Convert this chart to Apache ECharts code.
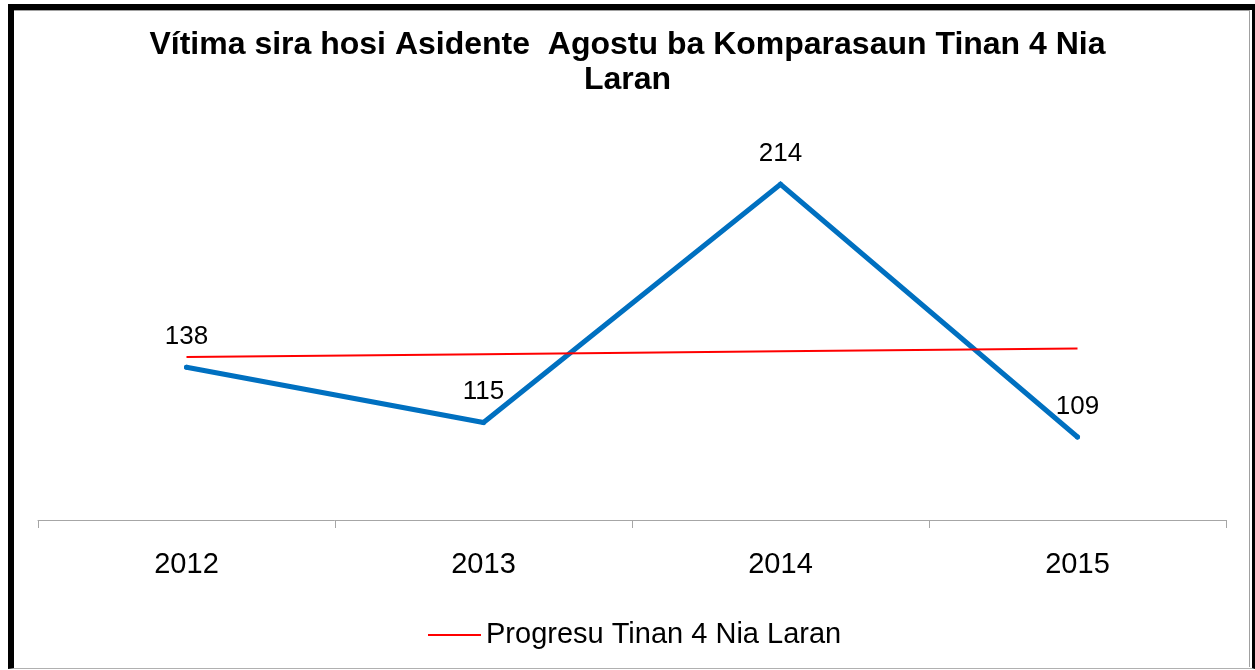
<!DOCTYPE html>
<html>
<head>
<meta charset="utf-8">
<script src="https://cdn.jsdelivr.net/npm/echarts@6/dist/echarts.min.js"></script>
<style>
  html, body { margin: 0; padding: 0; background: #fff; }
  #chart { position: absolute; left: 0; top: 0; width: 1255px; height: 670px; }
  #frame { position: absolute; left: 8px; top: 4px; width: 1238px; height: 658px;
           border-left: 6px solid #000; border-top: 6px solid #000; border-right: 3px solid #000;
           border-bottom: 1px solid #b0b0b0; pointer-events: none; box-sizing: content-box; }
  #inner { position: absolute; left: 14px; top: 10px; width: 1236px; height: 657px;
           border-top: 1px solid #a0a0a0; border-right: 1px solid #a0a0a0; pointer-events: none; box-sizing: border-box; }
</style>
</head>
<body>
<div id="chart"></div>
<div id="frame"></div>
<div id="inner"></div>
<script>
const titleText = 'Vítima sira hosi Asidente  Agostu ba Komparasaun Tinan 4 Nia\nLaran';
const categories = ['2012', '2013', '2014', '2015'];
const victims = [138, 115, 214, 109];
const trendName = 'Progresu Tinan 4 Nia Laran';
const trend = [142.2, 143.4, 144.6, 145.8];

const FF = 'Liberation Sans, Arial, sans-serif';
const chart = echarts.init(document.getElementById('chart'), null, { renderer: 'canvas' });
chart.setOption({
  backgroundColor: '#ffffff',
  animation: false,
  textStyle: { fontFamily: FF },
  title: {
    text: titleText,
    left: 'center',
    top: 23,
    textStyle: { fontFamily: FF, fontSize: 32, fontWeight: 'bold', color: '#000', lineHeight: 35 }
  },
  grid: { left: 38, right: 29, top: 135, bottom: 150, containLabel: false },
  legend: {
    data: [{ name: trendName, icon: 'rect' }],
    left: 423,
    top: 615,
    itemWidth: 53,
    itemHeight: 2,
    itemGap: 10,
    textStyle: { fontFamily: FF, fontSize: 29, color: '#000', lineHeight: 30 }
  },
  xAxis: {
    type: 'category',
    data: categories,
    boundaryGap: true,
    axisLine: { show: true, lineStyle: { color: '#a6a6a6', width: 1 } },
    axisTick: { show: true, inside: false, length: 8, lineStyle: { color: '#a6a6a6' } },
    axisLabel: { margin: 30, fontSize: 29, color: '#000', fontFamily: FF },
    splitLine: { show: false }
  },
  yAxis: {
    type: 'value',
    min: 74.5,
    max: 234.5,
    show: false,
    splitLine: { show: false }
  },
  series: [
    {
      name: 'Vítima',
      type: 'line',
      data: victims,
      symbol: 'circle',
      symbolSize: 5,
      showSymbol: true,
      lineStyle: { color: '#0070C0', width: 5, cap: 'round', join: 'miter' },
      itemStyle: { color: '#0070C0', borderWidth: 0 },
      label: {
        show: true,
        position: 'top',
        distance: 15,
        fontSize: 26,
        color: '#000',
        fontFamily: FF
      },
      z: 3
    },
    {
      name: trendName,
      type: 'line',
      data: trend,
      symbol: 'none',
      showSymbol: false,
      lineStyle: { color: '#FF0000', width: 2 },
      itemStyle: { color: '#FF0000' },
      z: 4
    }
  ]
});
</script>
</body>
</html>
